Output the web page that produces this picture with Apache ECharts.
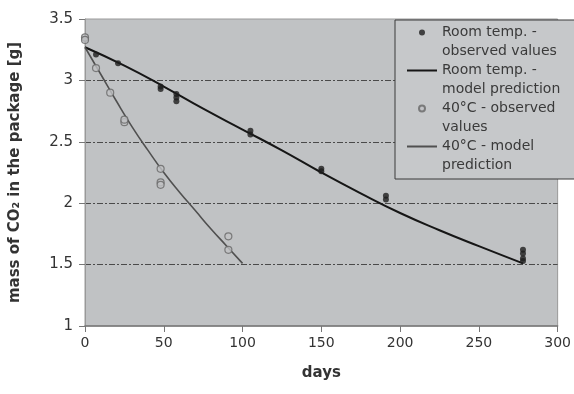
<!DOCTYPE html>
<html lang="en">
<head>
<meta charset="UTF-8">
<script src="https://cdn.jsdelivr.net/npm/echarts@6/dist/echarts.min.js"></script>
<title>CO2 mass</title>
<style>
  html, body { margin: 0; padding: 0; background: #fff; }
  #main { width: 574px; height: 394px; }
</style>
</head>
<body>
<div id="main"></div>
<script>
// days / mass of CO2 [g]
var roomObsDays = [0, 7, 21, 48, 48, 58, 58, 58, 105, 105, 150, 150, 191, 191, 278, 278, 278, 278];
var roomObsMass = [3.34, 3.21, 3.14, 2.95, 2.93, 2.89, 2.86, 2.83, 2.59, 2.56, 2.28, 2.26, 2.06, 2.03, 1.62, 1.59, 1.55, 1.53];
var roomModelDays = [0, 25, 50, 75, 100, 125, 150, 175, 200, 225, 250, 278];
var roomModelMass = [3.27, 3.12, 2.95, 2.77, 2.60, 2.43, 2.25, 2.08, 1.92, 1.78, 1.65, 1.51];
var hotObsDays = [0, 0, 7, 16, 25, 25, 48, 48, 48, 91, 91];
var hotObsMass = [3.35, 3.33, 3.10, 2.90, 2.66, 2.68, 2.28, 2.17, 2.15, 1.73, 1.62];
var hotModelDays = [0, 10, 20, 30, 40, 50, 60, 70, 80, 90, 100];
var hotModelMass = [3.27, 3.05, 2.83, 2.62, 2.43, 2.25, 2.09, 1.94, 1.79, 1.65, 1.51];
var legendNames = ['Room temp. -\nobserved values', 'Room temp. -\nmodel prediction', '40°C - observed\nvalues', '40°C - model\nprediction'];
var xTicks = [0, 50, 100, 150, 200, 250, 300];
var yTicks = [1, 1.5, 2, 2.5, 3, 3.5];

function pairs(xs, ys) {
  var out = [];
  for (var i = 0; i < xs.length; i++) out.push([xs[i], ys[i]]);
  return out;
}

var chart = echarts.init(document.getElementById('main'));
var font = 'DejaVu Sans';
var plotBg = '#c0c2c4';
var lineIcon = 'path://M0,0 L30,0 L30,2 L0,2 Z';

var option = {
  backgroundColor: '#fff',
  animation: false,
  textStyle: { fontFamily: font },
  grid: {
    left: 84, right: 11, top: 19, bottom: 68,
    show: true,
    backgroundColor: plotBg,
    borderColor: '#9a9a9a',
    borderWidth: 1
  },
  legend: {
    orient: 'vertical',
    left: 395,
    top: 20,
    padding: [-16, 30, 4, 12],
    itemGap: -19,
    itemWidth: 30,
    itemHeight: 6,
    backgroundColor: '#c6c8ca',
    borderColor: '#3a3a3a',
    borderWidth: 1,
    textStyle: { fontFamily: font, fontSize: 14, color: '#3a3a3a', lineHeight: 19 },
    formatter: function (name) { return '\n' + name; },
    data: [
      { name: legendNames[0] },
      { name: legendNames[1], icon: lineIcon },
      { name: legendNames[2] },
      { name: legendNames[3], icon: lineIcon }
    ]
  },
  xAxis: {
    type: 'value',
    min: xTicks[0], max: xTicks[xTicks.length - 1], interval: 50,
    name: 'days',
    nameLocation: 'middle',
    nameGap: 40,
    nameTextStyle: { fontFamily: font, fontSize: 15, fontWeight: 'bold', color: '#333' },
    axisLine: { show: true, lineStyle: { color: '#777', width: 1.5 } },
    axisTick: { show: true, length: 6, lineStyle: { color: '#777' } },
    axisLabel: { fontFamily: font, fontSize: 14, color: '#333', margin: 10 },
    splitLine: { show: false }
  },
  yAxis: {
    type: 'value',
    min: yTicks[0], max: yTicks[yTicks.length - 1], interval: 0.5,
    name: 'mass of CO\u2082 in the package [g]',
    nameLocation: 'middle',
    nameGap: 62,
    nameTextStyle: { fontFamily: font, fontSize: 15, fontWeight: 'bold', color: '#333' },
    axisLine: { show: true, lineStyle: { color: '#999' } },
    axisTick: { show: true, length: 6, lineStyle: { color: '#777' } },
    axisLabel: { fontFamily: font, fontSize: 15, color: '#333', margin: 12 },
    splitLine: {
      show: true, showMinLine: false, showMaxLine: false,
      lineStyle: { color: '#4a4a4a', width: 1, type: [6, 2, 2, 2] }
    }
  },
  series: [
    {
      name: legendNames[0], type: 'scatter',
      symbol: 'circle', symbolSize: 6,
      itemStyle: { color: '#1e1e1e' },
      data: pairs(roomObsDays, roomObsMass), z: 4
    },
    {
      name: legendNames[1], type: 'line',
      smooth: true, symbol: 'none',
      lineStyle: { color: '#161616', width: 2 },
      itemStyle: { color: '#161616' },
      data: pairs(roomModelDays, roomModelMass), z: 3
    },
    {
      name: legendNames[2], type: 'scatter',
      symbol: 'circle', symbolSize: 7,
      itemStyle: { color: plotBg, borderColor: '#666', borderWidth: 1.2 },
      data: pairs(hotObsDays, hotObsMass), z: 4
    },
    {
      name: legendNames[3], type: 'line',
      smooth: true, symbol: 'none',
      lineStyle: { color: '#505050', width: 1.6 },
      itemStyle: { color: '#505050' },
      data: pairs(hotModelDays, hotModelMass), z: 3
    }
  ]
};
chart.setOption(option);
</script>
</body>
</html>
